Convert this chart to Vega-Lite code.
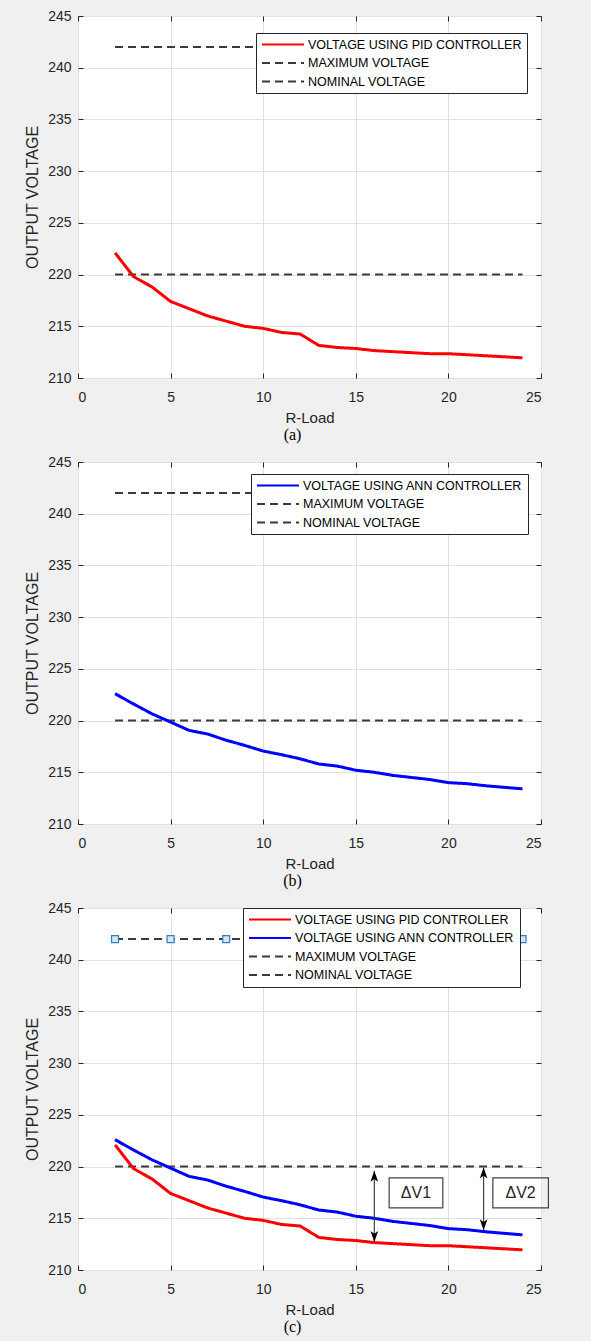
{
  "$schema": "https://vega.github.io/schema/vega-lite/v6.json",
  "background": "#f0f0f0",
  "autosize": {"type": "pad"},
  "padding": {"left": 24, "top": 8, "right": 42, "bottom": 5},
  "bounds": "flush",
  "spacing": 84,
  "config": {
    "font": "Liberation Sans",
    "view": {"stroke": "#262626", "strokeWidth": 1, "fill": "white"},
    "axis": {
      "grid": true, "gridColor": "#e0e0e0", "domain": false,
      "tickColor": "#262626", "tickSize": -5,
      "labelFont": "Liberation Sans", "labelFontSize": 14, "labelColor": "#262626",
      "titleFont": "Liberation Sans", "titleFontSize": 15, "titleFontWeight": "normal", "titleColor": "#262626"
    },
    "legend": {
      "fillColor": "white", "strokeColor": "#262626", "padding": 5,
      "symbolType": "stroke", "symbolSize": 1764, "symbolStrokeWidth": 2, "clipHeight": 13,
      "labelFont": "Liberation Sans", "labelFontSize": 12.5, "labelColor": "#000000",
      "labelOffset": 3, "rowPadding": 5.5, "labelLimit": 400
    }
  },
  "datasets": {
    "curves": [
      {"x": 2, "v": 222.1, "series": "VOLTAGE USING PID CONTROLLER"},
      {"x": 3, "v": 219.8, "series": "VOLTAGE USING PID CONTROLLER"},
      {"x": 4, "v": 218.8, "series": "VOLTAGE USING PID CONTROLLER"},
      {"x": 5, "v": 217.4, "series": "VOLTAGE USING PID CONTROLLER"},
      {"x": 6, "v": 216.7, "series": "VOLTAGE USING PID CONTROLLER"},
      {"x": 7, "v": 216.0, "series": "VOLTAGE USING PID CONTROLLER"},
      {"x": 8, "v": 215.5, "series": "VOLTAGE USING PID CONTROLLER"},
      {"x": 9, "v": 215.0, "series": "VOLTAGE USING PID CONTROLLER"},
      {"x": 10, "v": 214.8, "series": "VOLTAGE USING PID CONTROLLER"},
      {"x": 11, "v": 214.4, "series": "VOLTAGE USING PID CONTROLLER"},
      {"x": 12, "v": 214.25, "series": "VOLTAGE USING PID CONTROLLER"},
      {"x": 13, "v": 213.15, "series": "VOLTAGE USING PID CONTROLLER"},
      {"x": 14, "v": 212.95, "series": "VOLTAGE USING PID CONTROLLER"},
      {"x": 15, "v": 212.85, "series": "VOLTAGE USING PID CONTROLLER"},
      {"x": 16, "v": 212.65, "series": "VOLTAGE USING PID CONTROLLER"},
      {"x": 17, "v": 212.55, "series": "VOLTAGE USING PID CONTROLLER"},
      {"x": 18, "v": 212.45, "series": "VOLTAGE USING PID CONTROLLER"},
      {"x": 19, "v": 212.35, "series": "VOLTAGE USING PID CONTROLLER"},
      {"x": 20, "v": 212.35, "series": "VOLTAGE USING PID CONTROLLER"},
      {"x": 21, "v": 212.25, "series": "VOLTAGE USING PID CONTROLLER"},
      {"x": 22, "v": 212.15, "series": "VOLTAGE USING PID CONTROLLER"},
      {"x": 23, "v": 212.05, "series": "VOLTAGE USING PID CONTROLLER"},
      {"x": 24, "v": 211.95, "series": "VOLTAGE USING PID CONTROLLER"},
      {"x": 2, "v": 222.6, "series": "VOLTAGE USING ANN CONTROLLER"},
      {"x": 3, "v": 221.6, "series": "VOLTAGE USING ANN CONTROLLER"},
      {"x": 4, "v": 220.65, "series": "VOLTAGE USING ANN CONTROLLER"},
      {"x": 5, "v": 219.85, "series": "VOLTAGE USING ANN CONTROLLER"},
      {"x": 6, "v": 219.05, "series": "VOLTAGE USING ANN CONTROLLER"},
      {"x": 7, "v": 218.7, "series": "VOLTAGE USING ANN CONTROLLER"},
      {"x": 8, "v": 218.1, "series": "VOLTAGE USING ANN CONTROLLER"},
      {"x": 9, "v": 217.6, "series": "VOLTAGE USING ANN CONTROLLER"},
      {"x": 10, "v": 217.05, "series": "VOLTAGE USING ANN CONTROLLER"},
      {"x": 11, "v": 216.7, "series": "VOLTAGE USING ANN CONTROLLER"},
      {"x": 12, "v": 216.3, "series": "VOLTAGE USING ANN CONTROLLER"},
      {"x": 13, "v": 215.8, "series": "VOLTAGE USING ANN CONTROLLER"},
      {"x": 14, "v": 215.6, "series": "VOLTAGE USING ANN CONTROLLER"},
      {"x": 15, "v": 215.2, "series": "VOLTAGE USING ANN CONTROLLER"},
      {"x": 16, "v": 215.0, "series": "VOLTAGE USING ANN CONTROLLER"},
      {"x": 17, "v": 214.7, "series": "VOLTAGE USING ANN CONTROLLER"},
      {"x": 18, "v": 214.5, "series": "VOLTAGE USING ANN CONTROLLER"},
      {"x": 19, "v": 214.3, "series": "VOLTAGE USING ANN CONTROLLER"},
      {"x": 20, "v": 214.0, "series": "VOLTAGE USING ANN CONTROLLER"},
      {"x": 21, "v": 213.9, "series": "VOLTAGE USING ANN CONTROLLER"},
      {"x": 22, "v": 213.7, "series": "VOLTAGE USING ANN CONTROLLER"},
      {"x": 23, "v": 213.55, "series": "VOLTAGE USING ANN CONTROLLER"},
      {"x": 24, "v": 213.4, "series": "VOLTAGE USING ANN CONTROLLER"}
    ],
    "refs": [
      {"x": 2, "v": 242, "series": "MAXIMUM VOLTAGE"},
      {"x": 24, "v": 242, "series": "MAXIMUM VOLTAGE"},
      {"x": 2, "v": 220, "series": "NOMINAL VOLTAGE"},
      {"x": 24, "v": 220, "series": "NOMINAL VOLTAGE"}
    ],
    "markers": [
      {"x": 2, "v": 242}, {"x": 5, "v": 242}, {"x": 8, "v": 242}, {"x": 11, "v": 242},
      {"x": 14, "v": 242}, {"x": 17, "v": 242}, {"x": 20, "v": 242}, {"x": 24, "v": 242}
    ],
    "deltas": [
      {"x": 16, "top": 219.6, "bottom": 212.7, "bx": 16.8, "bx2": 19.7, "by": 218.9, "by2": 216.0, "tx": 18.25, "ty": 217.45, "label": "ΔV1"},
      {"x": 21.9, "top": 219.9, "bottom": 213.85, "bx": 22.4, "bx2": 25.4, "by": 218.9, "by2": 216.0, "tx": 23.9, "ty": 217.45, "label": "ΔV2"}
    ]
  },
  "resolve": {
    "scale": {"color": "independent", "strokeDash": "independent"},
    "legend": {"color": "independent", "strokeDash": "independent"}
  },
  "vconcat": [
    {
      "width": 463, "height": 362,
      "title": {"text": "(a)", "orient": "bottom", "anchor": "middle", "dx": -17, "offset": 2, "font": "Liberation Serif", "fontSize": 16, "fontWeight": "normal", "color": "#000000"},
      "layer": [
        {
          "data": {"name": "refs"},
          "mark": {"type": "line", "strokeWidth": 2},
          "encoding": {
            "x": {"field": "x", "type": "quantitative", "scale": {"domain": [0, 25], "nice": false}, "axis": {"orient": "bottom", "values": [0, 5, 10, 15, 20, 25], "title": "R-Load", "labelPadding": 17, "titlePadding": 6}},
            "y": {"field": "v", "type": "quantitative", "scale": {"domain": [210, 245], "nice": false, "zero": false}, "axis": {"orient": "left", "values": [210, 215, 220, 225, 230, 235, 240, 245], "title": "OUTPUT VOLTAGE", "titleFontSize": 16, "labelPadding": 12, "titlePadding": 7}},
            "color": {"field": "series", "type": "nominal", "scale": {"domain": ["VOLTAGE USING PID CONTROLLER", "MAXIMUM VOLTAGE", "NOMINAL VOLTAGE"], "range": ["#ff0000", "#3a3a3a", "#3a3a3a"]}, "legend": {"title": null, "orient": "none", "legendX": 178, "legendY": 17}},
            "strokeDash": {"field": "series", "type": "nominal", "scale": {"domain": ["VOLTAGE USING PID CONTROLLER", "MAXIMUM VOLTAGE", "NOMINAL VOLTAGE"], "range": [[1, 0], [8, 5], [8, 5]]}, "legend": {"title": null, "orient": "none", "legendX": 178, "legendY": 17}}
          }
        },
        {
          "data": {"name": "curves"},
          "transform": [{"filter": "datum.series == 'VOLTAGE USING PID CONTROLLER'"}],
          "mark": {"type": "line", "strokeWidth": 3},
          "encoding": {
            "x": {"field": "x", "type": "quantitative", "axis": null},
            "y": {"field": "v", "type": "quantitative", "axis": null},
            "color": {"field": "series", "type": "nominal", "legend": {"title": null, "orient": "none", "legendX": 178, "legendY": 17}},
            "strokeDash": {"field": "series", "type": "nominal", "legend": {"title": null, "orient": "none", "legendX": 178, "legendY": 17}}
          }
        },
        {
          "data": {"name": "refs"},
          "mark": {"type": "point", "opacity": 0},
          "encoding": {
            "x": {"field": "x", "type": "quantitative", "axis": {"orient": "top", "values": [0, 5, 10, 15, 20, 25], "labels": false, "grid": false, "title": null}},
            "y": {"field": "v", "type": "quantitative", "axis": {"orient": "right", "values": [210, 215, 220, 225, 230, 235, 240, 245], "labels": false, "grid": false, "title": null}}
          }
        }
      ],
      "resolve": {"axis": {"x": "independent", "y": "independent"}}
    },
    {
      "width": 463, "height": 362,
      "title": {"text": "(b)", "orient": "bottom", "anchor": "middle", "dx": -17, "offset": 2, "font": "Liberation Serif", "fontSize": 16, "fontWeight": "normal", "color": "#000000"},
      "layer": [
        {
          "data": {"name": "refs"},
          "mark": {"type": "line", "strokeWidth": 2},
          "encoding": {
            "x": {"field": "x", "type": "quantitative", "scale": {"domain": [0, 25], "nice": false}, "axis": {"orient": "bottom", "values": [0, 5, 10, 15, 20, 25], "title": "R-Load", "labelPadding": 17, "titlePadding": 6}},
            "y": {"field": "v", "type": "quantitative", "scale": {"domain": [210, 245], "nice": false, "zero": false}, "axis": {"orient": "left", "values": [210, 215, 220, 225, 230, 235, 240, 245], "title": "OUTPUT VOLTAGE", "titleFontSize": 16, "labelPadding": 12, "titlePadding": 7}},
            "color": {"field": "series", "type": "nominal", "scale": {"domain": ["VOLTAGE USING ANN CONTROLLER", "MAXIMUM VOLTAGE", "NOMINAL VOLTAGE"], "range": ["#0000ff", "#3a3a3a", "#3a3a3a"]}, "legend": {"title": null, "orient": "none", "legendX": 173, "legendY": 12}},
            "strokeDash": {"field": "series", "type": "nominal", "scale": {"domain": ["VOLTAGE USING ANN CONTROLLER", "MAXIMUM VOLTAGE", "NOMINAL VOLTAGE"], "range": [[1, 0], [8, 5], [8, 5]]}, "legend": {"title": null, "orient": "none", "legendX": 173, "legendY": 12}}
          }
        },
        {
          "data": {"name": "curves"},
          "transform": [{"filter": "datum.series == 'VOLTAGE USING ANN CONTROLLER'"}],
          "mark": {"type": "line", "strokeWidth": 3},
          "encoding": {
            "x": {"field": "x", "type": "quantitative", "axis": null},
            "y": {"field": "v", "type": "quantitative", "axis": null},
            "color": {"field": "series", "type": "nominal", "legend": {"title": null, "orient": "none", "legendX": 173, "legendY": 12}},
            "strokeDash": {"field": "series", "type": "nominal", "legend": {"title": null, "orient": "none", "legendX": 173, "legendY": 12}}
          }
        },
        {
          "data": {"name": "refs"},
          "mark": {"type": "point", "opacity": 0},
          "encoding": {
            "x": {"field": "x", "type": "quantitative", "axis": {"orient": "top", "values": [0, 5, 10, 15, 20, 25], "labels": false, "grid": false, "title": null}},
            "y": {"field": "v", "type": "quantitative", "axis": {"orient": "right", "values": [210, 215, 220, 225, 230, 235, 240, 245], "labels": false, "grid": false, "title": null}}
          }
        }
      ],
      "resolve": {"axis": {"x": "independent", "y": "independent"}}
    },
    {
      "width": 463, "height": 362,
      "title": {"text": "(c)", "orient": "bottom", "anchor": "middle", "dx": -17, "offset": 2, "font": "Liberation Serif", "fontSize": 16, "fontWeight": "normal", "color": "#000000"},
      "layer": [
        {
          "data": {"name": "refs"},
          "mark": {"type": "line", "strokeWidth": 2},
          "encoding": {
            "x": {"field": "x", "type": "quantitative", "scale": {"domain": [0, 25], "nice": false}, "axis": {"orient": "bottom", "values": [0, 5, 10, 15, 20, 25], "title": "R-Load", "labelPadding": 17, "titlePadding": 6}},
            "y": {"field": "v", "type": "quantitative", "scale": {"domain": [210, 245], "nice": false, "zero": false}, "axis": {"orient": "left", "values": [210, 215, 220, 225, 230, 235, 240, 245], "title": "OUTPUT VOLTAGE", "titleFontSize": 16, "labelPadding": 12, "titlePadding": 7}},
            "color": {"field": "series", "type": "nominal", "scale": {"domain": ["VOLTAGE USING PID CONTROLLER", "VOLTAGE USING ANN CONTROLLER", "MAXIMUM VOLTAGE", "NOMINAL VOLTAGE"], "range": ["#ff0000", "#0000ff", "#3a3a3a", "#3a3a3a"]}, "legend": {"title": null, "orient": "none", "legendX": 165, "legendY": 0}},
            "strokeDash": {"field": "series", "type": "nominal", "scale": {"domain": ["VOLTAGE USING PID CONTROLLER", "VOLTAGE USING ANN CONTROLLER", "MAXIMUM VOLTAGE", "NOMINAL VOLTAGE"], "range": [[1, 0], [1, 0], [8, 5], [8, 5]]}, "legend": {"title": null, "orient": "none", "legendX": 165, "legendY": 0}}
          }
        },
        {
          "data": {"name": "markers"},
          "mark": {"type": "point", "shape": "square", "filled": true, "fill": "#d6e6f4", "stroke": "#2f7fc1", "strokeWidth": 1.2, "size": 49, "opacity": 1},
          "encoding": {
            "x": {"field": "x", "type": "quantitative", "axis": null},
            "y": {"field": "v", "type": "quantitative", "axis": null}
          }
        },
        {
          "data": {"name": "curves"},
          "mark": {"type": "line", "strokeWidth": 3},
          "encoding": {
            "x": {"field": "x", "type": "quantitative", "axis": null},
            "y": {"field": "v", "type": "quantitative", "axis": null},
            "color": {"field": "series", "type": "nominal", "legend": {"title": null, "orient": "none", "legendX": 165, "legendY": 0}},
            "strokeDash": {"field": "series", "type": "nominal", "legend": {"title": null, "orient": "none", "legendX": 165, "legendY": 0}}
          }
        },
        {
          "data": {"name": "deltas"},
          "mark": {"type": "rule", "color": "#404040", "strokeWidth": 1.2},
          "encoding": {
            "x": {"field": "x", "type": "quantitative", "axis": null},
            "y": {"field": "top", "type": "quantitative", "axis": null},
            "y2": {"field": "bottom"}
          }
        },
        {
          "data": {"name": "deltas"},
          "mark": {"type": "point", "shape": "M0,0L0.7,2L0,1.5L-0.7,2Z", "filled": true, "color": "#000000", "size": 121, "opacity": 1},
          "encoding": {
            "x": {"field": "x", "type": "quantitative", "axis": null},
            "y": {"field": "top", "type": "quantitative", "axis": null}
          }
        },
        {
          "data": {"name": "deltas"},
          "mark": {"type": "point", "shape": "M0,0L0.7,-2L0,-1.5L-0.7,-2Z", "filled": true, "color": "#000000", "size": 121, "opacity": 1},
          "encoding": {
            "x": {"field": "x", "type": "quantitative", "axis": null},
            "y": {"field": "bottom", "type": "quantitative", "axis": null}
          }
        },
        {
          "data": {"name": "deltas"},
          "mark": {"type": "rect", "filled": false, "color": "#404040", "strokeWidth": 1.2, "clip": false},
          "encoding": {
            "x": {"field": "bx", "type": "quantitative", "axis": null},
            "x2": {"field": "bx2"},
            "y": {"field": "by", "type": "quantitative", "axis": null},
            "y2": {"field": "by2"}
          }
        },
        {
          "data": {"name": "deltas"},
          "mark": {"type": "text", "fontSize": 16, "font": "Liberation Sans", "color": "#262626", "align": "center", "baseline": "middle", "clip": false},
          "encoding": {
            "x": {"field": "tx", "type": "quantitative", "axis": null},
            "y": {"field": "ty", "type": "quantitative", "axis": null},
            "text": {"field": "label"}
          }
        },
        {
          "data": {"name": "refs"},
          "mark": {"type": "point", "opacity": 0},
          "encoding": {
            "x": {"field": "x", "type": "quantitative", "axis": {"orient": "top", "values": [0, 5, 10, 15, 20, 25], "labels": false, "grid": false, "title": null}},
            "y": {"field": "v", "type": "quantitative", "axis": {"orient": "right", "values": [210, 215, 220, 225, 230, 235, 240, 245], "labels": false, "grid": false, "title": null}}
          }
        }
      ],
      "resolve": {"axis": {"x": "independent", "y": "independent"}}
    }
  ]
}
